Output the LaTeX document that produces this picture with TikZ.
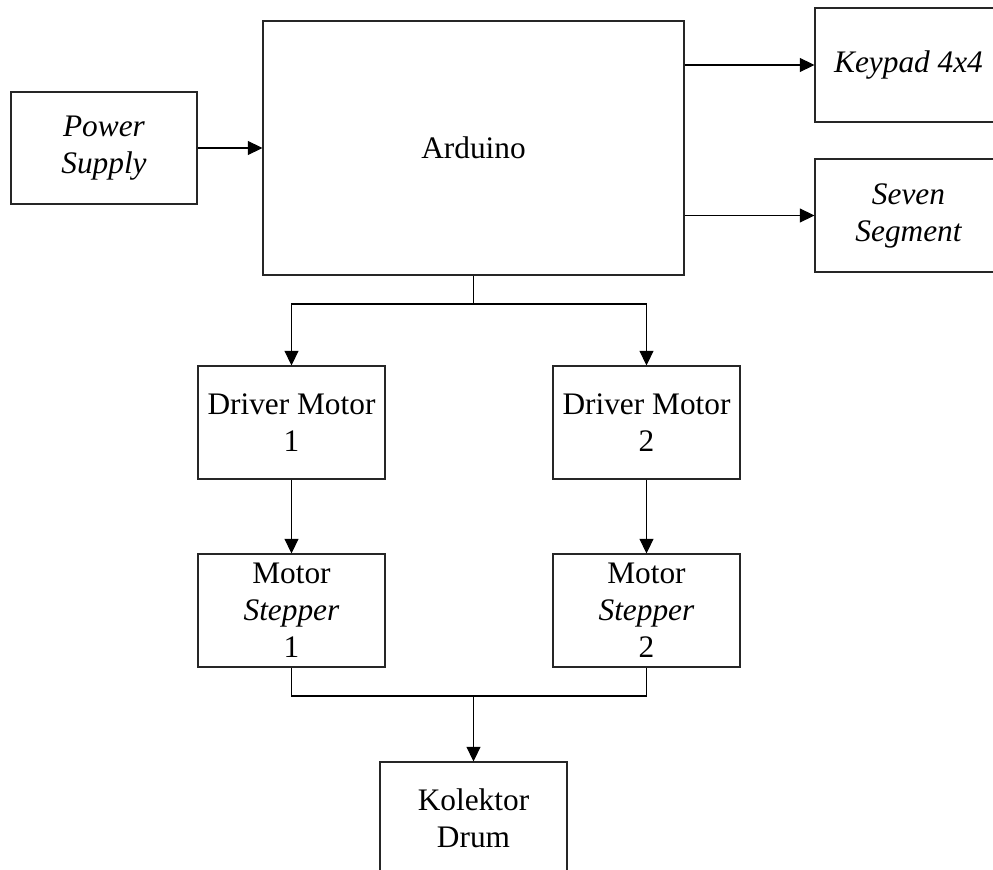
\documentclass[tikz,border=0pt]{standalone}
\usepackage{fontspec}
\setmainfont{Liberation Serif}
\usetikzlibrary{arrows.meta}
\begin{document}
\begin{tikzpicture}[x=0.75pt,y=-0.75pt,
  box/.style={draw=black!85,line width=0.8pt,align=center,inner sep=0pt,
    font=\fontsize{23.5}{27.7}\selectfont},
  conn/.style={line width=0.8pt,black},
  arr/.style={conn,-{Triangle[length=11pt,width=10.5pt]}}]
\useasboundingbox (0,0) rectangle (993,870);
\clip (0,0) rectangle (993,870);
\node[box,minimum width={186*0.75pt},minimum height={112*0.75pt}] (ps) at (104,148) {\itshape Power\\\itshape Supply};
\node[box,minimum width={421*0.75pt},minimum height={254*0.75pt}] (ard) at (473.5,148) {Arduino};
\node[box,minimum width={187*0.75pt},minimum height={114*0.75pt}] (kp) at (908.5,65) {\itshape Keypad 4x4};
\node[box,minimum width={187*0.75pt},minimum height={113*0.75pt}] (ss) at (908.5,215.5) {\itshape Seven\\\itshape Segment};
\node[box,minimum width={187*0.75pt},minimum height={113*0.75pt}] (d1) at (291.5,422.5) {Driver Motor\\1};
\node[box,minimum width={187*0.75pt},minimum height={113*0.75pt}] (d2) at (646.5,422.5) {Driver Motor\\2};
\node[box,minimum width={187*0.75pt},minimum height={113*0.75pt}] (s1) at (291.5,610.5) {Motor\\\textit{Stepper}\\1};
\node[box,minimum width={187*0.75pt},minimum height={113*0.75pt}] (s2) at (646.5,610.5) {Motor\\\textit{Stepper}\\2};
\node[box,minimum width={187*0.75pt},minimum height={113*0.75pt}] (kol) at (473.5,818.5) {Kolektor\\Drum};
\coordinate (br) at (473.5,304);
\coordinate (jn) at (473.5,696);
\draw[arr] (ps.east) -- (ps.east -| ard.west);
\draw[arr] (ard.east |- kp.west) -- (kp.west);
\draw[arr] (ard.east |- ss.west) -- (ss.west);
\draw[conn] (ard.south) -- (br);
\draw[arr] (br) -| (d1.north);
\draw[arr] (br) -| (d2.north);
\draw[arr] (d1.south) -- (s1.north);
\draw[arr] (d2.south) -- (s2.north);
\draw[conn] (s1.south) |- (jn) -| (s2.south);
\draw[arr] (jn) -- (kol.north);
\end{tikzpicture}
\end{document}
